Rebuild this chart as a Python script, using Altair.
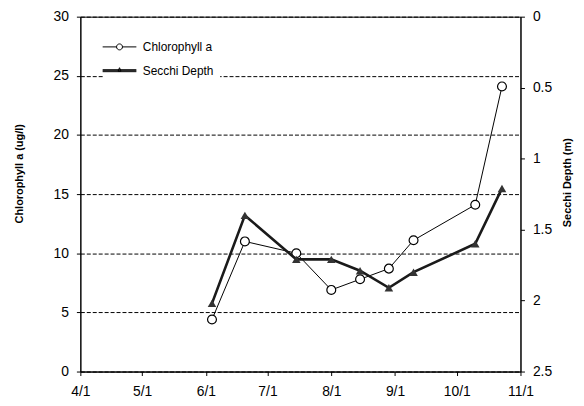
import altair as alt
import pandas as pd

# ---- data ----
dates = ["2001-06-04T00:00", "2001-06-20T00:00", "2001-07-15T00:00", "2001-08-01T00:00",
         "2001-08-15T00:00", "2001-08-29T00:00", "2001-09-10T00:00", "2001-10-10T00:00",
         "2001-10-23T00:00"]
chlorophyll = [4.4, 11.0, 10.0, 6.9, 7.8, 8.7, 11.1, 14.1, 24.1]
secchi_depth = [2.02, 1.40, 1.71, 1.71, 1.79, 1.91, 1.80, 1.60, 1.21]
series_names = ["Chlorophyll a", "Secchi Depth"]
chl_ticks = [0, 5, 10, 15, 20, 25, 30]
secchi_ticks = [0, 0.5, 1, 1.5, 2, 2.5]
month_ticks = [4, 5, 6, 7, 8, 9, 10, 11]

df = pd.DataFrame({"date": dates, "chl": chlorophyll, "secchi": secchi_depth})
legend_df = pd.DataFrame({"series": series_names})

FONT = "Liberation Sans"

x_enc = alt.X(
    "date:T",
    scale=alt.Scale(domain=[alt.DateTime(year=2001, month=4, date=1),
                            alt.DateTime(year=2001, month=11, date=1)], nice=False),
    axis=alt.Axis(values=[alt.DateTime(year=2001, month=m, date=1) for m in month_ticks],
                  format="%-m/%-d", title=None, grid=False, tickSize=4, labelPadding=9,
                  labelFontSize=14, labelColor="black", domainColor="black",
                  tickColor="black", labelFlush=False),
)

y_chl = alt.Y(
    "chl:Q",
    scale=alt.Scale(domain=[0, 30], nice=False),
    axis=alt.Axis(orient="left", values=chl_ticks, grid=True, gridDash=[4, 2],
                  gridColor="black", gridOpacity=1, gridWidth=1,
                  title="Chlorophyll a (ug/l)", titleFontWeight="bold", titleFontSize=11,
                  titleX=-61, titleY=158, titleAngle=270, titleAlign="center",
                  titleBaseline="middle", titleColor="black",
                  labelFontSize=14, labelColor="black", tickSize=4, labelPadding=8,
                  domainColor="black", tickColor="black"),
)

y_sec = alt.Y(
    "secchi:Q",
    scale=alt.Scale(domain=[0, 2.5], reverse=True, nice=False),
    axis=alt.Axis(orient="right", values=secchi_ticks, format="~g", grid=False,
                  title="Secchi Depth (m)", titleFontWeight="bold", titleFontSize=11,
                  titleX=47, titleY=167, titleAngle=270, titleAlign="center",
                  titleBaseline="middle", titleColor="black",
                  labelFontSize=14, labelColor="black", tickSize=4, labelPadding=8,
                  domainColor="black", tickColor="black"),
)

base = alt.Chart(df)

chl_line = base.mark_line(color="black", strokeWidth=1).encode(x=x_enc, y=y_chl)
chl_pts = base.mark_point(shape="circle", size=80, filled=True, fill="white",
                          stroke="black", strokeWidth=1.2, opacity=1).encode(x=x_enc, y=y_chl)

sec_line = base.mark_line(color="#1a1a1a", strokeWidth=2.6).encode(x=x_enc, y=y_sec)
sec_pts = base.mark_point(shape="triangle-up", size=75, filled=True, color="#333333",
                          opacity=1).encode(x=x_enc, y=y_sec)

chl_layer = alt.layer(chl_line, chl_pts)
sec_layer = alt.layer(sec_line, sec_pts)

# legend symbols: line + marker drawn as custom shapes
chl_sym = ("M-1.7,0L-0.3,0M0.3,0L1.7,0"
           "M-0.3,0A0.3,0.3,0,1,1,0.3,0A0.3,0.3,0,1,1,-0.3,0")
sec_sym = ("M-1.7,-0.1L1.7,-0.1M-1.7,0L1.7,0M-1.7,0.1L1.7,0.1"
           "M-0.15,0.05L0,-0.3L0.15,0.05Z")

legend_layer = alt.Chart(legend_df).mark_point(color="black", opacity=0, size=400).encode(
    x=alt.value(0),
    y=alt.value(0),
    shape=alt.Shape(
        "series:N",
        scale=alt.Scale(domain=series_names, range=[chl_sym, sec_sym]),
        legend=alt.Legend(orient="none", legendX=23, legendY=14, title=None,
                          fillColor="white", padding=6, symbolSize=400,
                          symbolStrokeColor="black", symbolStrokeWidth=1,
                          symbolOpacity=1, symbolFillColor="white",
                          labelFontSize=12, labelColor="black", labelOffset=13,
                          rowPadding=7, labelFont=FONT),
    ),
)

chart = (
    alt.layer(chl_layer, sec_layer, legend_layer)
    .resolve_scale(y="independent")
    .properties(width=444, height=358,
                autosize=alt.AutoSizeParams(type="none"),
                padding={"left": 73, "top": 7, "right": 56, "bottom": 31})
    .configure(font=FONT)
    .configure_view(stroke="black", strokeWidth=1)
    .configure_axis(labelFont=FONT, titleFont=FONT)
)

chart.save("out.html", embed_options={"renderer": "svg", "actions": False})
